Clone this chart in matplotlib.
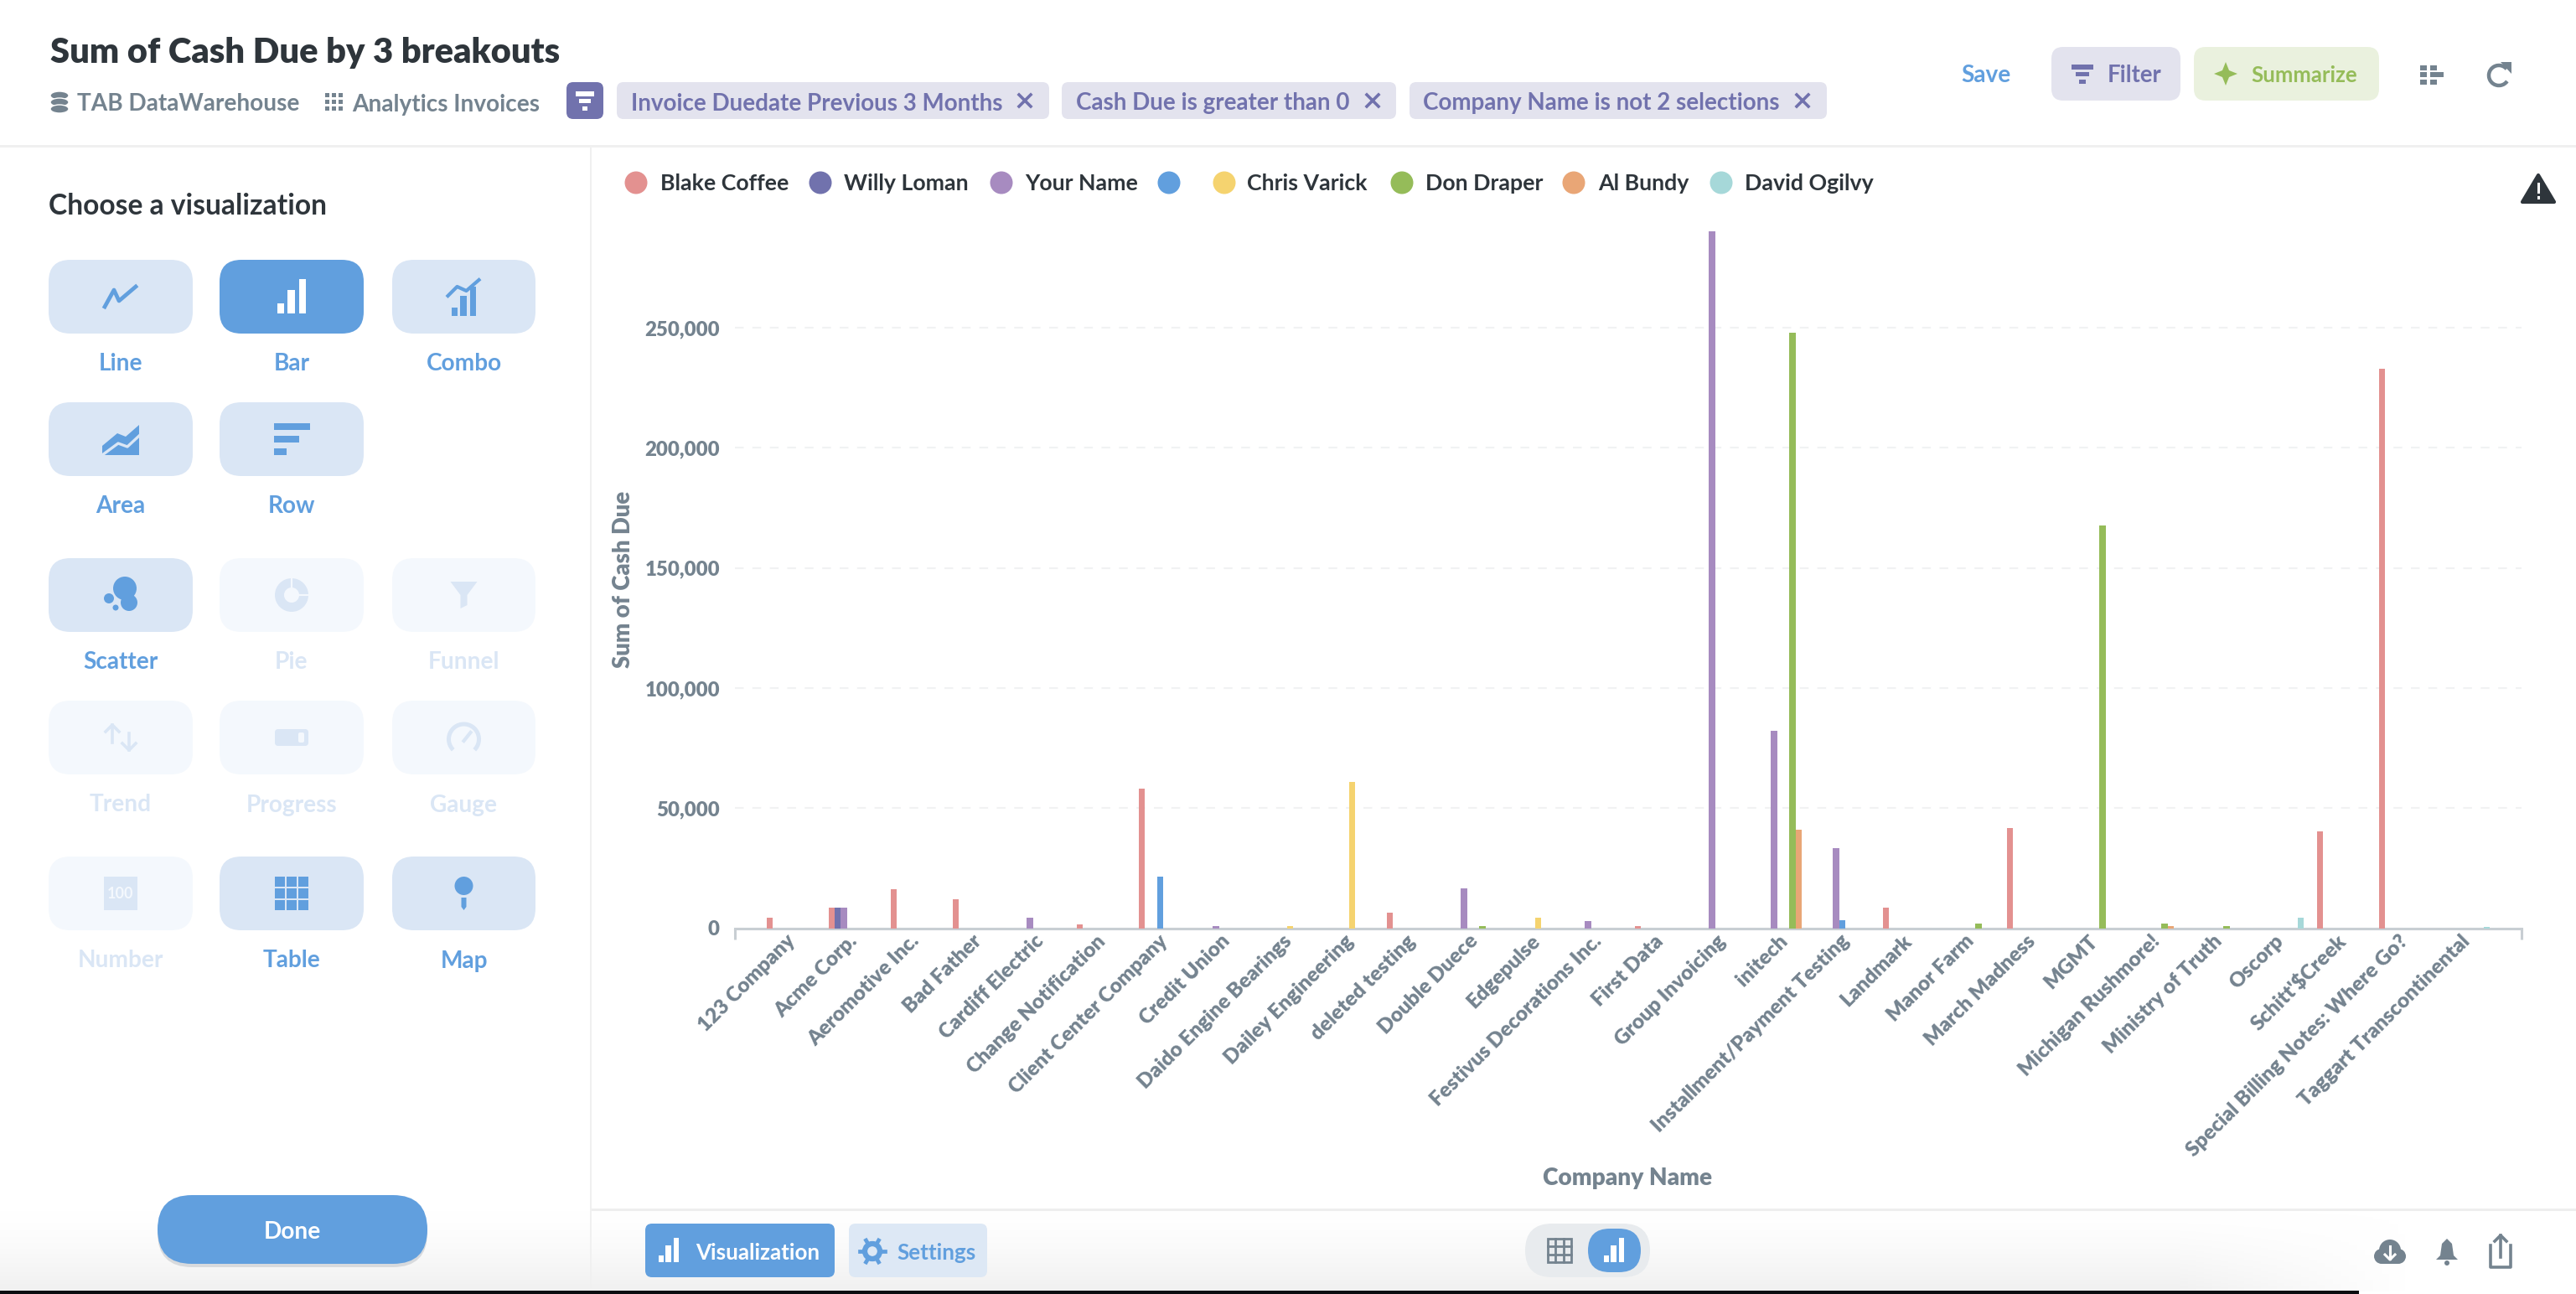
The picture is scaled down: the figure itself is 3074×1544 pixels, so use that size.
import numpy as np
from matplotlib import pyplot as plt
from matplotlib.patches import FancyBboxPatch, Circle, Polygon, Rectangle, Wedge, Arc, Ellipse
from matplotlib.transforms import ScaledTranslation

plt.rcParams['font.family'] = ['Lato', 'DejaVu Sans']
plt.rcParams['font.weight'] = 'bold'

companies = ["123 Company", "Acme Corp.", "Aeromotive Inc.", "Bad Father", "Cardiff Electric",
             "Change Notification", "Client Center Company", "Credit Union", "Daido Engine Bearings",
             "Dailey Engineering", "deleted testing", "Double Duece", "Edgepulse",
             "Festivus Decorations Inc.", "First Data", "Group Invoicing", "initech",
             "Installment/Payment Testing", "Landmark", "Manor Farm", "March Madness", "MGMT",
             "Michigan Rushmore!", "Ministry of Truth", "Oscorp", "Schitt'$Creek",
             "Special Billing Notes: Where Go?", "Taggart Transcontinental"]

series_names = ["Blake Coffee", "Willy Loman", "Your Name", "", "Chris Varick", "Don Draper", "Al Bundy", "David Ogilvy"]
series_colors = ["#E39190", "#7172AD", "#A78BC0", "#619FDE", "#F5D36F", "#95BC59", "#E9A676", "#A6D8D9"]

blake = {0: 4200, 1: 8500, 2: 16100, 3: 12000, 5: 1500, 6: 58000, 10: 6500, 14: 800, 18: 8400,
         20: 41800, 25: 40400, 26: 232800}
willy = {1: 8500}
your_name = {1: 8500, 4: 4200, 7: 800, 11: 16500, 13: 3000, 15: 290100, 16: 82300, 17: 33400}
no_name = {6: 21600, 17: 3400}
chris = {8: 800, 9: 60900, 12: 4400}
don = {11: 800, 16: 248000, 19: 2000, 21: 167800, 22: 2000, 23: 700}
al = {16: 41000, 22: 700}
david = {24: 4200, 27: 600}
series_values = [blake, willy, your_name, no_name, chris, don, al, david]

y_ticks = [0, 50000, 100000, 150000, 200000, 250000]

GREY = "#74838F"
DARK = "#2E353B"
BLUE = "#619FDE"
PALE = "#DAE6F5"
FAINT = "#F4F8FD"
PURPLE = "#7172AD"
CHIP = "#E3E3EE"
GREEN = "#95BC59"


def px(size):
    return size * 0.72


fig = plt.figure(figsize=(30.74, 15.44), dpi=100, facecolor="white")
ui = fig.add_axes([0, 0, 1, 1])
ui.set_xlim(0, 3074)
ui.set_ylim(1544, 0)
ui.axis("off")


def box(x0, y0, x1, y1, color, r=16, z=2, **kw):
    p = FancyBboxPatch((x0, y0), x1 - x0, y1 - y0, boxstyle="round,pad=0,rounding_size=%s" % r,
                       fc=color, ec="none", zorder=z, **kw)
    ui.add_patch(p)


def label(x, y, s, size=28, color=GREY, ha="left", **kw):
    ui.text(x, y, s, fontsize=px(size), color=color, ha=ha, va="center_baseline", **kw)


def rect(x0, y0, x1, y1, color, z=4):
    ui.add_patch(Rectangle((x0, y0), x1 - x0, y1 - y0, fc=color, ec="none", zorder=z))


def cross(x, y, color, s=7):
    ui.plot([x - s, x + s], [y - s, y + s], color=color, lw=2.6, zorder=4)
    ui.plot([x - s, x + s], [y + s, y - s], color=color, lw=2.6, zorder=4)


def filter_icon(x, y, color, w=22):
    rect(x - w / 2, y - 11, x + w / 2, y - 5, color)
    rect(x - w / 3.2, y - 2, x + w / 3.2, y + 3, color)
    rect(x - w / 7, y + 7, x + w / 7, y + 12, color)


def bars_icon(x, y, color, s=1.0):
    rect(x - 17 * s, y + 8 * s, x - 9 * s, y + 20 * s, color)
    rect(x - 5 * s, y - 8 * s, x + 4 * s, y + 20 * s, color)
    rect(x + 9 * s, y - 21 * s, x + 17 * s, y + 20 * s, color)


# bottom shading and the black strip of the screenshot
shade = np.ones((100, 300, 4))
shade[:, :, :3] = 0.91
shade[:, :, 3] = np.linspace(0, 0.75, 100)[:, None] ** 1.5
shade[:, 270:, 3] *= np.linspace(1, 0, 30)[None, :]
ui.imshow(shade, extent=(0, 2880, 1541, 1441), aspect="auto", zorder=1)
ui.set_xlim(0, 3074)
ui.set_ylim(1544, 0)
rect(0, 1540, 2815, 1544, "#0B0D10", z=9)

# dividers
rect(0, 173, 3074, 176, "#F0F0F0", z=1)
rect(704, 176, 706, 1540, "#F0F0F0", z=1)
rect(706, 1442, 3074, 1445, "#EEEEEE", z=1)

# header
label(60, 60, "Sum of Cash Due by 3 breakouts", 41.6, DARK, fontweight="heavy")
for y in (114, 122, 130):
    ui.add_patch(Ellipse((71, y), 22, 10, fc=GREY, ec="white", lw=1, zorder=4))
label(92, 122, "TAB DataWarehouse", 28)
for i in range(3):
    for j in range(3):
        rect(388 + i * 8, 111 + j * 8, 393 + i * 8, 116 + j * 8, GREY)
label(420, 122, "Analytics Invoices", 28)
box(676, 98, 720, 142, PURPLE, r=8)
filter_icon(698, 120, "white")

chips = [(736, 1252, "Invoice Duedate Previous 3 Months", 753, 1223),
         (1267, 1666, "Cash Due is greater than 0", 1284, 1638),
         (1682, 2180, "Company Name is not 2 selections", 1698, 2151)]
for x0, x1, s, tx, cx in chips:
    box(x0, 98, x1, 142, CHIP, r=8)
    label(tx, 121, s, 27.8, PURPLE)
    cross(cx, 120, PURPLE)

label(2340, 88, "Save", 28, BLUE)
box(2448, 56, 2602, 120, CHIP, r=14)
filter_icon(2485, 88, PURPLE, w=26)
label(2515, 88, "Filter", 27.5, PURPLE)
box(2618, 56, 2839, 120, "#EAF1DE", r=14)
ui.add_patch(Polygon([(2656, 74), (2660, 84), (2670, 88), (2660, 92), (2656, 102), (2652, 92), (2642, 88), (2652, 84)],
                     fc=GREEN, ec="none", zorder=4))
label(2686, 88, "Summarize", 25.8, GREEN)

# list icon and refresh
rect(2888, 78, 2896, 84, GREY)
rect(2900, 78, 2908, 84, GREY)
rect(2888, 86, 2896, 92, GREY)
rect(2900, 86, 2916, 92, GREY)
rect(2888, 95, 2896, 101, GREY)
rect(2900, 95, 2908, 101, GREY)
ui.add_patch(Arc((2982, 90), 24, 24, theta1=35, theta2=320, ec=GREY, lw=3.2, zorder=4))
ui.add_patch(Polygon([(2984, 74), (2997, 74), (2997, 88)], fc=GREY, ec="none", zorder=4))

# sidebar
label(58, 243, "Choose a visualization", 33.6, DARK)

col_x = [(58, 230), (262, 434), (468, 639)]
rows = [(310, 398, 431), (480, 568, 602), (666, 754, 788), (836, 924, 958), (1022, 1110, 1144)]
buttons = [("Line", 0, 0, 1), ("Bar", 0, 1, 2), ("Combo", 0, 2, 1),
           ("Area", 1, 0, 1), ("Row", 1, 1, 1),
           ("Scatter", 2, 0, 1), ("Pie", 2, 1, 0), ("Funnel", 2, 2, 0),
           ("Trend", 3, 0, 0), ("Progress", 3, 1, 0), ("Gauge", 3, 2, 0),
           ("Number", 4, 0, 0), ("Table", 4, 1, 1), ("Map", 4, 2, 1)]
for name, r, c, state in buttons:
    x0, x1 = col_x[c]
    y0, y1, ly = rows[r]
    fill = {0: FAINT, 1: PALE, 2: BLUE}[state]
    box(x0, y0, x1, y1, fill, r=26)
    label((x0 + x1) / 2, ly, name, 28, PALE if state == 0 else BLUE, ha="center")


def center(r, c):
    return (col_x[c][0] + col_x[c][1]) / 2, (rows[r][0] + rows[r][1]) / 2


cx, cy = center(0, 0)
ui.plot([cx - 19, cx - 8, cx - 2, cx + 18], [cy + 12, cy - 8, cy + 5, cy - 12], color=BLUE, lw=3.4, zorder=4)
cx, cy = center(0, 1)
bars_icon(cx, cy, "white")
cx, cy = center(0, 2)
bars_icon(cx, cy + 6, BLUE, 0.85)
ui.plot([cx - 19, cx - 8, cx + 3, cx + 18], [cy - 1, cy - 12, cy - 7, cy - 20], color=BLUE, lw=3, zorder=4)
cx, cy = center(1, 0)
ui.add_patch(Polygon([(cx - 22, cy + 19), (cx - 22, cy + 8), (cx - 4, cy - 7), (cx + 6, cy - 3), (cx + 22, cy - 17), (cx + 22, cy + 19)],
                     fc=BLUE, ec="none", zorder=4))
ui.plot([cx - 22, cx - 3, cx + 8, cx + 22], [cy + 19, cy + 5, cy + 9, cy - 4], color=PALE, lw=2.4, zorder=5)
cx, cy = center(1, 1)
rect(cx - 21, cy - 19, cx + 22, cy - 11, BLUE)
rect(cx - 21, cy - 4, cx + 9, cy + 4, BLUE)
rect(cx - 21, cy + 11, cx - 6, cy + 19, BLUE)
cx, cy = center(2, 0)
for dx, dy, rad in ((5, -8, 14), (10, 9, 10), (-14, 4, 6), (-6, 15, 3.5)):
    ui.add_patch(Circle((cx + dx, cy + dy), rad, fc=BLUE, ec="none", zorder=4))
cx, cy = center(2, 1)
ui.add_patch(Wedge((cx, cy), 20, 0, 360, width=11, fc=PALE, ec="none", zorder=4))
ui.plot([cx, cx], [cy - 20, cy - 8], color=FAINT, lw=1.6, zorder=5)
ui.plot([cx + 8, cx + 20], [cy, cy], color=FAINT, lw=1.6, zorder=5)
cx, cy = center(2, 2)
ui.add_patch(Polygon([(cx - 16, cy - 16), (cx + 16, cy - 16), (cx + 4, cy), (cx + 4, cy + 12), (cx - 4, cy + 16), (cx - 4, cy)],
                     fc=PALE, ec="none", zorder=4))
cx, cy = center(3, 0)
ui.plot([cx - 10, cx - 10], [cy - 15, cy + 6], color=PALE, lw=2.6, zorder=4)
ui.plot([cx - 18, cx - 10, cx - 2], [cy - 7, cy - 15, cy - 7], color=PALE, lw=2.6, zorder=4)
ui.plot([cx + 10, cx + 10], [cy - 5, cy + 15], color=PALE, lw=2.6, zorder=4)
ui.plot([cx + 2, cx + 10, cx + 18], [cy + 7, cy + 15, cy + 7], color=PALE, lw=2.6, zorder=4)
cx, cy = center(3, 1)
box(cx - 20, cy - 10, cx + 20, cy + 10, PALE, r=4, z=4)
box(cx + 8, cy - 6, cx + 15, cy + 6, FAINT, r=2, z=5)
cx, cy = center(3, 2)
ui.add_patch(Arc((cx, cy + 2), 36, 36, theta1=135, theta2=45, ec=PALE, lw=3.6, zorder=4))
ui.plot([cx, cx + 8], [cy + 4, cy - 6], color=PALE, lw=3, zorder=4)
cx, cy = center(4, 0)
rect(cx - 20, cy - 20, cx + 20, cy + 20, PALE)
ui.text(cx, cy, "100", fontsize=px(18), color=FAINT, ha="center", va="center", zorder=5)
cx, cy = center(4, 1)
for i in range(3):
    for j in range(3):
        rect(cx - 20 + i * 14, cy - 20 + j * 14, cx - 8 + i * 14, cy - 8 + j * 14, BLUE)
cx, cy = center(4, 2)
ui.add_patch(Circle((cx, cy - 9), 11, fc=BLUE, ec="none", zorder=4))
ui.add_patch(Polygon([(cx - 3, cy + 5), (cx + 3, cy + 5), (cx + 3, cy + 16), (cx, cy + 20), (cx - 3, cy + 16)], fc=BLUE, ec="none", zorder=4))

box(188, 1430, 510, 1512, "#D8DADD", r=41, z=2)
box(188, 1426, 510, 1508, BLUE, r=41, z=3)
ui.text(349, 1468, "Done", fontsize=px(28), color="white", ha="center", va="center_baseline", zorder=4)

# bottom bar
box(770, 1460, 996, 1524, BLUE, r=8)
bars_icon(798, 1492, "white", 0.72)
ui.text(830, 1493, "Visualization", fontsize=px(26), color="white", va="center_baseline", zorder=4)
box(1013, 1460, 1178, 1524, "#DDE8F5", r=8)
ui.add_patch(Circle((1041, 1493), 9, fc="none", ec=BLUE, lw=4.5, zorder=4))
for a in np.arange(0, 360, 60):
    ui.plot([1041 + 12 * np.cos(np.radians(a)), 1041 + 15 * np.cos(np.radians(a))],
            [1493 + 12 * np.sin(np.radians(a)), 1493 + 15 * np.sin(np.radians(a))], color=BLUE, lw=3.4, zorder=4)
ui.text(1070, 1493, "Settings", fontsize=px(26), color=BLUE, va="center_baseline", zorder=4)
box(1820, 1460, 1969, 1524, "#E8EBEE", r=32)
box(1895, 1466, 1958, 1518, BLUE, r=26, z=3)
bars_icon(1926, 1492, "white", 0.72)
ui.add_patch(Rectangle((1847, 1478), 28, 28, fc="none", ec=GREY, lw=2, zorder=4))
for t in (1487, 1497):
    ui.plot([1847, 1875], [t, t], color=GREY, lw=2, zorder=4)
for t in (1856, 1866):
    ui.plot([t, t], [1478, 1506], color=GREY, lw=2, zorder=4)

for dx, dy, rad in ((-10, 4, 9), (0, -3, 13), (10, 4, 9)):
    ui.add_patch(Circle((2852 + dx, 1495 + dy), rad, fc=GREY, ec="none", zorder=4))
rect(2842, 1496, 2862, 1508, GREY)
ui.plot([2852, 2852], [1487, 1502], color="white", lw=2.2, zorder=5)
ui.plot([2846, 2852, 2858], [1497, 1503, 1497], color="white", lw=2.2, zorder=5)
ui.add_patch(Polygon([(2920, 1478), (2926, 1484), (2928, 1498), (2933, 1503), (2907, 1503), (2912, 1498), (2914, 1484)], fc=GREY, ec="none", zorder=4))
ui.add_patch(Circle((2920, 1507), 3, fc=GREY, ec="none", zorder=4))
ui.plot([2972, 2972, 2996, 2996], [1486, 1512, 1512, 1486], color=GREY, lw=2.6, zorder=4)
ui.plot([2984, 2984], [1474, 1500], color=GREY, lw=2.6, zorder=4)
ui.plot([2977, 2984, 2991], [1481, 1474, 1481], color=GREY, lw=2.6, zorder=4)

# legend
legend_dot_x = [759, 979, 1195, 1395, 1461, 1673, 1878, 2054]
legend_text_x = [788, 1007, 1223, 1424, 1488, 1701, 1907, 2082]
for i in range(len(series_names)):
    ui.add_patch(Circle((legend_dot_x[i], 218), 13.5, fc=series_colors[i], ec="none", zorder=4))
    if series_names[i]:
        label(legend_text_x[i], 217, series_names[i], 26.8, DARK)

# warning icon
ui.add_patch(Polygon([(3029, 209), (3048, 241), (3010, 241)], fc=DARK, ec=DARK, lw=3, joinstyle="round", zorder=4))
rect(3027.5, 218, 3030.5, 231, "white", z=5)
rect(3027.5, 234, 3030.5, 238, "white", z=5)

# chart
left, right, top, base = 877, 3009, 276, 1107.5
ax = fig.add_axes([left / 3074, 1 - base / 1544, (right - left) / 3074, (base - top) / 1544])
ax.patch.set_alpha(0)
n = len(series_names)
band = 74.0
bar_w = 7.35 / band
x = np.arange(len(companies))
for i in range(n):
    vals = [series_values[i].get(k, 0) for k in x]
    ax.bar(x + (i - (n - 1) / 2) * bar_w, vals, bar_w, color=series_colors[i], zorder=3)

ax.set_xlim((left - 944) / band, (right - 944) / band)
ax.set_ylim(0, 290100)
for s in ("top", "right", "left"):
    ax.spines[s].set_visible(False)
ax.spines["bottom"].set_color("#C8CED3")
ax.spines["bottom"].set_linewidth(2.2)
ax.set_yticks(y_ticks)
ax.set_yticklabels([format(v, ",") for v in y_ticks], fontsize=px(24), color=GREY, fontweight="heavy")
ax.set_xticks(x)
ax.set_xticklabels(companies, rotation=45, ha="right", rotation_mode="anchor", fontsize=px(24.5), color=GREY,
                   fontweight="heavy")
ax.tick_params(axis="y", length=0, pad=13)
ax.tick_params(axis="x", length=0, pad=3)
ax.set_xticks(list(ax.get_xlim()), minor=True)
ax.tick_params(axis="x", which="minor", length=9, width=2.2, color="#C8CED3")
# nudge the slanted names left, has to come after tick_params or it gets reset
shift = ScaledTranslation(-6 / 100, 0, fig.dpi_scale_trans)
for t in ax.get_xticklabels():
    t.set_transform(t.get_transform() + shift)
ax.grid(axis="y", color="#F1F2F3", lw=1.5, linestyle=(0, (5, 5)), zorder=0)
ax.set_axisbelow(True)

ui.text(744, 691, "Sum of Cash Due", rotation=90, fontsize=px(27.5), color=GREY, ha="center", va="center", fontweight="heavy")
ui.text(1942, 1406, "Company Name", fontsize=px(28), color=GREY, ha="center", va="center", fontweight="heavy")

fig.savefig("out.png", dpi=100)
